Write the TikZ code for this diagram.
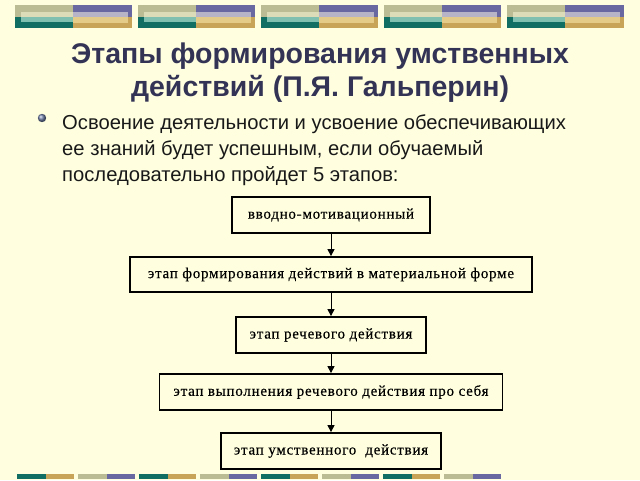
\documentclass[tikz,border=0pt]{standalone}
\usepackage{fontspec}
\setmainfont{Liberation Sans}
\newfontfamily\boxfont[LetterSpace=5,FakeBold=0.4]{Liberation Serif}
\usetikzlibrary{arrows.meta}
\definecolor{bg}{RGB}{255,255,224}
\definecolor{khaki}{RGB}{188,188,148}
\definecolor{khakil}{RGB}{220,220,184}
\definecolor{tealdk}{RGB}{16,110,98}
\definecolor{teall}{RGB}{128,192,176}
\definecolor{purp}{RGB}{106,104,160}
\definecolor{purpl}{RGB}{184,180,200}
\definecolor{goldd}{RGB}{200,164,88}
\definecolor{goldl}{RGB}{228,204,136}
\definecolor{titlec}{RGB}{51,51,85}
\definecolor{ballc}{RGB}{110,125,165}
\tikzset{
  stagebox/.style={draw=black, line width=1.8pt, fill=bg, inner sep=0pt,
    font=\boxfont\fontsize{15}{17}\selectfont, text=black},
  flowarrow/.style={line width=1pt, -{Triangle[length=7pt,width=7pt]}},
  titletext/.style={font=\fontsize{28.5}{31}\selectfont\bfseries, text=titlec, anchor=base, inner sep=0pt},
  bodytext/.style={font=\fontsize{20.2}{24}\selectfont, text=black!90, anchor=base west, inner sep=0pt}
}
\begin{document}
\begin{tikzpicture}[x=1pt,y=-1pt]
\fill[bg] (0,0) rectangle (640,480);
\useasboundingbox (0,0) rectangle (640,480);
% top decorative blocks
\foreach \x in {15,138,261,384,507}{
  \fill[khaki]  (\x,5) rectangle (\x+58,17);
  \fill[khakil] (\x+6,12) rectangle (\x+58,17);
  \fill[tealdk] (\x,17) rectangle (\x+58,28);
  \fill[teall]  (\x+6,17) rectangle (\x+58,22);
  \fill[purp]   (\x+58,5) rectangle (\x+117,17);
  \fill[purpl]  (\x+58,12) rectangle (\x+113,17);
  \fill[goldd]  (\x+58,17) rectangle (\x+117,28);
  \fill[goldl]  (\x+58,17) rectangle (\x+113,23);
}
% bottom decorative bar
\foreach \i in {0,...,7}{
  \pgfmathsetmacro\xs{17.3+61*\i}
  \ifodd\i
    \fill[khaki] (\xs,474) rectangle (\xs+28.4,479);
    \fill[purp]  (\xs+28.4,474) rectangle (\xs+56.8,479);
  \else
    \fill[tealdk] (\xs,474) rectangle (\xs+28.4,479);
    \fill[goldd]  (\xs+28.4,474) rectangle (\xs+56.8,479);
  \fi
}
% title
\node[titletext] (t1) at (320,63) {Этапы формирования умственных};
\node[titletext] (t2) at (320,96) {действий (П.Я. Гальперин)};
% bullet
\shade[ball color=ballc] (42,118) circle (4.2);
\node[bodytext] (l1) at (62,129) {Освоение деятельности и усвоение обеспечивающих};
\node[bodytext] (l2) at (62,155) {ее знаний будет успешным, если обучаемый};
\node[bodytext] (l3) at (62,181) {последовательно пройдет 5 этапов:};
% boxes
\node[stagebox, minimum width=198pt, minimum height=36pt] (b1) at (331,215) {вводно-мотивационный};
\node[stagebox, minimum width=402pt, minimum height=35pt] (b2) at (331,274.5) {этап формирования действий в материальной форме};
\node[stagebox, minimum width=190pt, minimum height=36pt] (b3) at (331,335) {этап речевого действия};
\node[stagebox, minimum width=343pt, minimum height=36pt] (b4) at (331,392) {этап выполнения речевого действия про себя};
\node[stagebox, minimum width=220pt, minimum height=36pt] (b5) at (331,451) {этап умственного\ \ действия};
\draw[flowarrow] (b1) -- (b2);
\draw[flowarrow] (b2) -- (b3);
\draw[flowarrow] (b3) -- (b4);
\draw[flowarrow] (b4) -- (b5);
\end{tikzpicture}
\end{document}
